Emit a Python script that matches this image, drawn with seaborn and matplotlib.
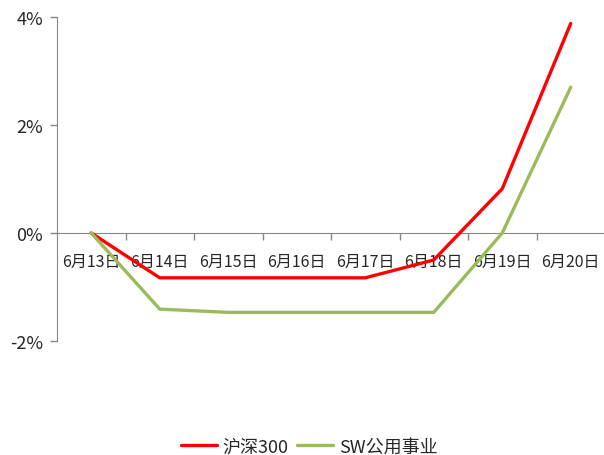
import pandas as pd
import seaborn as sns
import matplotlib.pyplot as plt
from matplotlib.ticker import FixedLocator, FuncFormatter

# data (% change)
dates = ["6月13日", "6月14日", "6月15日", "6月16日", "6月17日", "6月18日", "6月19日", "6月20日"]
hs300 = [0.0, -0.83, -0.83, -0.83, -0.83, -0.50, 0.82, 3.88]
sw_util = [0.0, -1.41, -1.47, -1.47, -1.47, -1.47, 0.0, 2.70]
names = ["沪深300", "SW公用事业"]
colors = ["#FF0000", "#9BBB59"]

df = pd.DataFrame({"date": dates * 2,
                   "value": hs300 + sw_util,
                   "series": [names[0]] * len(dates) + [names[1]] * len(dates)})
df["pos"] = list(range(len(dates))) * 2

sns.set_style("white")
plt.rcParams['font.family'] = ['Noto Sans CJK SC', 'DejaVu Sans']

fig = plt.figure(figsize=(6.04, 4.56), dpi=100)
ax = fig.add_axes([57 / 604, 1 - 342 / 456, 548 / 604, 324 / 456])

sns.lineplot(data=df, x="pos", y="value", hue="series", palette=colors,
             linewidth=2.4, sort=False, ax=ax, zorder=3)

ax.set_xlim(-0.5, len(dates) - 0.5)
ax.set_ylim(-2, 4)
ax.set_xlabel("")
ax.set_ylabel("")

# y axis
ax.set_yticks([-2, 0, 2, 4])
ax.yaxis.set_major_formatter(FuncFormatter(lambda v, p: f"{v:.0f}%"))
ax.tick_params(axis="y", left=True, direction="out", length=5, width=1,
               color="#888888", labelsize=13, pad=5)

# x axis sits on zero, ticks between categories
for s in ["top", "right"]:
    ax.spines[s].set_visible(False)
ax.spines["left"].set_color("#888888")
ax.spines["bottom"].set_color("#888888")
ax.spines["bottom"].set_position(("data", 0))
ax.set_xticks(range(len(dates)))
ax.set_xticklabels(dates, fontsize=11.5)
ax.xaxis.set_minor_locator(FixedLocator([i + 0.5 for i in range(len(dates))]))
ax.tick_params(axis="x", which="major", bottom=True, length=0, pad=14)
ax.tick_params(axis="x", which="minor", bottom=True, direction="out", length=5,
               width=1, color="#888888")

leg = ax.legend(loc="center", bbox_to_anchor=(0.46, -0.325), ncol=2, frameon=False,
                fontsize=13, handlelength=2.0, columnspacing=0.5, handletextpad=0.3)
for line in leg.get_lines():
    line.set_linewidth(2.4)

fig.savefig("out.png", dpi=100)
